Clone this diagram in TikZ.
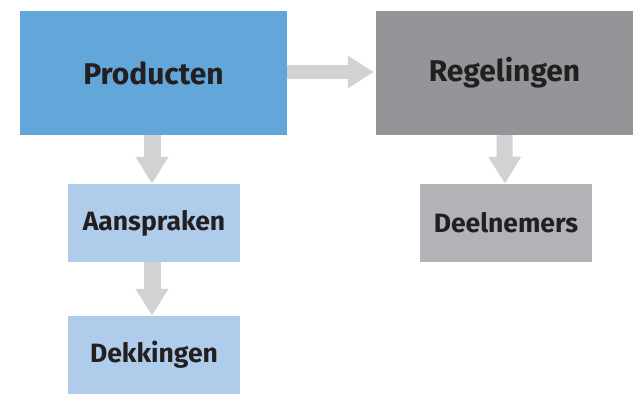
\documentclass[tikz,border=0pt]{standalone}
\usepackage{fontspec}
\setmainfont{Fira Sans}
\usetikzlibrary{arrows.meta}
\definecolor{blueA}{HTML}{63A6DA}
\definecolor{blueB}{HTML}{AFCDEB}
\definecolor{greyA}{HTML}{939598}
\definecolor{greyB}{HTML}{B1B3B6}
\definecolor{arrowgrey}{HTML}{D1D2D4}
\definecolor{txt}{HTML}{231F20}
\tikzset{
  bigbox/.style={rectangle, inner sep=0pt, text=txt, font=\fontsize{30}{35}\selectfont\bfseries, minimum height=124pt},
  smallbox/.style={rectangle, inner sep=0pt, text=txt, font=\fontsize{26.5}{31}\selectfont\bfseries, minimum width=172pt, minimum height=78pt},
  blockarrow/.style={draw=arrowgrey, line width=17pt, line cap=butt, -{Triangle[width=31pt,length=27pt]}},
  harrow/.style={draw=arrowgrey, line width=14pt, line cap=butt, -{Triangle[width=31pt,length=26pt]}},
}
\begin{document}
\begin{tikzpicture}[x=1pt,y=-1pt]
\useasboundingbox (0,0) rectangle (633,395);
\node[bigbox, fill=blueA, minimum width=267pt] (P) at (153.5,73) {Producten};
\node[bigbox, fill=greyA, minimum width=257pt] (R) at (504.5,73) {Regelingen};
\node[smallbox, fill=blueB] (A) at (154,223) {Aanspraken};
\node[smallbox, fill=blueB] (D) at (154,355) {Dekkingen};
\node[smallbox, fill=greyB] (N) at (506,223) {Deelnemers};
\draw[harrow, shorten >=2pt] ([yshift=1pt]P.east) -- ([yshift=1pt]R.west);
\draw[blockarrow] ([xshift=-1.5pt]P.south) -- ([xshift=-2pt]A.north);
\draw[blockarrow] ([xshift=-2pt]A.south) -- ([xshift=-2pt]D.north);
\draw[blockarrow, line width=16pt] (R.south) -- ([xshift=-1pt]N.north);
\end{tikzpicture}
\end{document}
